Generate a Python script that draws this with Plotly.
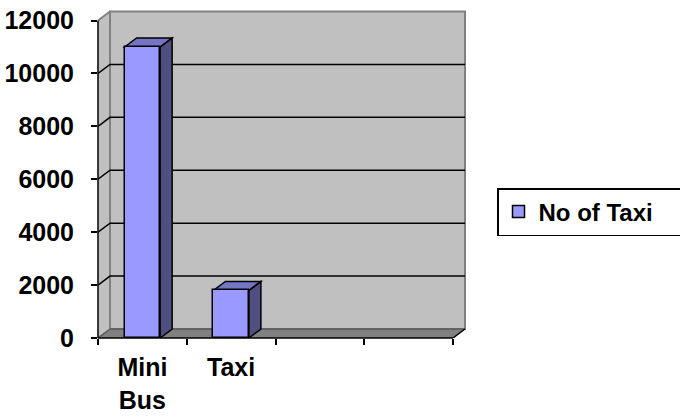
import plotly.graph_objects as go

# ---- data ----
categories = ["Mini Bus", "Taxi", "cat3", "cat4"]
tick_labels = ["Mini<br>Bus", "Taxi", "", ""]
values = [11000, 1800, None, None]
series_name = "No of Taxi"
y_ticks = [0, 2000, 4000, 6000, 8000, 10000, 12000]
y_tick_labels = ["0", "2000", "4000", "6000", "8000", "10000", "12000"]

# ---- geometry (pixels) ----
W, H = 680, 419
left, bottom = 98, 338           # front-left origin of plot
px_per_cat = 88.75
px_per_unit = 317.5 / 12000
depth_dx, depth_dy = 12, 9       # 3D depth offset in pixels
top_px = 9
right_px = 466
plot_w = right_px - left
plot_h = bottom - top_px

x_lo = -0.5
x_hi = -0.5 + plot_w / px_per_cat
y_lo = 0
y_hi = plot_h / px_per_unit
ox = depth_dx / px_per_cat
oy = depth_dy / px_per_unit
ncat = len(categories)
xr_front = ncat - 0.5
ymax_tick = max(y_ticks)

bar_w = 0.4
front_col = "#9999FF"
side_col = "#4F4F80"
top_col = "#7575C4"
wall_col = "#C0C0C0"
wall_edge = "#808080"
font_family = "Arial, Liberation Sans, sans-serif"
fsize = 25

shapes = []
# left side wall
shapes.append(dict(type="path", xref="x", yref="y", layer="below",
                   path=f"M{x_lo},0 L{x_lo},{ymax_tick} L{x_lo+ox},{ymax_tick+oy} L{x_lo+ox},{oy} Z",
                   fillcolor=wall_col, line=dict(width=0)))
# back wall
shapes.append(dict(type="rect", xref="x", yref="y", layer="below",
                   x0=x_lo + ox, x1=xr_front + ox, y0=oy, y1=ymax_tick + oy,
                   fillcolor=wall_col, line=dict(color=wall_edge, width=2)))
# top diagonal of side wall
shapes.append(dict(type="line", xref="x", yref="y", layer="below",
                   x0=x_lo, y0=ymax_tick, x1=x_lo + ox, y1=ymax_tick + oy,
                   line=dict(color=wall_edge, width=2)))
# floor
shapes.append(dict(type="path", xref="x", yref="y", layer="below",
                   path=f"M{x_lo},0 L{xr_front},0 L{xr_front+ox},{oy} L{x_lo+ox},{oy} Z",
                   fillcolor="#808080", line=dict(width=0)))
shapes.append(dict(type="line", xref="x", yref="y", layer="below",
                   x0=x_lo + ox, y0=oy, x1=xr_front + ox, y1=oy,
                   line=dict(color="#5A5A5A", width=1.5)))
shapes.append(dict(type="line", xref="x", yref="y", layer="below",
                   x0=x_lo, y0=0, x1=x_lo + ox, y1=oy,
                   line=dict(color="#5A5A5A", width=1.5)))
shapes.append(dict(type="line", xref="x", yref="y", layer="below",
                   x0=xr_front, y0=0, x1=xr_front + ox, y1=oy,
                   line=dict(color="black", width=1.5)))
# gridlines (diagonal on side wall + horizontal on back wall)
for v in y_ticks:
    if v == 0 or v == ymax_tick:
        continue
    shapes.append(dict(type="path", xref="x", yref="y", layer="below",
                       path=f"M{x_lo},{v} L{x_lo+ox},{v+oy} L{xr_front+ox},{v+oy}",
                       line=dict(color="black", width=1.5)))
# bar side and top faces
for i, v in enumerate(values):
    if v is None:
        continue
    xl, xr = i - bar_w / 2, i + bar_w / 2
    shapes.append(dict(type="path", xref="x", yref="y", layer="below",
                       path=f"M{xr},0 L{xr},{v} L{xr+ox},{v+oy} L{xr+ox},{oy} Z",
                       fillcolor=side_col, line=dict(color="black", width=1.5)))
    shapes.append(dict(type="path", xref="x", yref="y", layer="below",
                       path=f"M{xl},{v} L{xr},{v} L{xr+ox},{v+oy} L{xl+ox},{v+oy} Z",
                       fillcolor=top_col, line=dict(color="black", width=1.5)))
# axis lines
shapes.append(dict(type="line", xref="x domain", yref="y", layer="above",
                   x0=0, x1=0, y0=0, y1=ymax_tick, line=dict(color="black", width=1.5)))
shapes.append(dict(type="line", xref="x", yref="y domain", layer="above",
                   x0=x_lo, x1=xr_front, y0=0, y1=0, line=dict(color="black", width=1.5)))

fig = go.Figure()
fig.add_trace(go.Bar(x=categories, y=values, name=series_name, width=bar_w,
                     marker=dict(color=front_col, line=dict(color="black", width=1.5)),
                     showlegend=True))

fig.update_layout(
    width=W, height=H,
    margin=dict(l=left, r=W - right_px, t=top_px, b=H - bottom, pad=0, autoexpand=False),
    paper_bgcolor="white", plot_bgcolor="white",
    font=dict(family=font_family, size=fsize, color="black", weight="bold"),
    shapes=shapes,
    showlegend=True,
    legend=dict(x=(497 - left) / plot_w, y=(bottom - 212) / plot_h,
                xanchor="left", yanchor="middle", orientation="h",
                bordercolor="black", borderwidth=1.5, bgcolor="white",
                font=dict(family=font_family, size=24, color="black", weight="bold"),
                entrywidth=220, entrywidthmode="pixels"),
    bargap=0,
)
fig.update_xaxes(type="category", categoryorder="array", categoryarray=categories,
                 tickvals=categories, ticktext=tick_labels,
                 range=[x_lo, x_hi], tickson="boundaries", ticks="outside",
                 ticklen=6, tickwidth=1.5, tickcolor="black", automargin=False,
                 showgrid=False, showline=False, zeroline=False,
                 ticklabelstandoff=12)
fig.update_yaxes(range=[y_lo, y_hi], tickvals=y_ticks, ticktext=y_tick_labels,
                 ticks="outside", automargin=False,
                 ticklen=6, tickwidth=1.5, tickcolor="black",
                 showgrid=False, showline=False, zeroline=False,
                 ticklabelstandoff=12)

fig.write_html("out.html")
